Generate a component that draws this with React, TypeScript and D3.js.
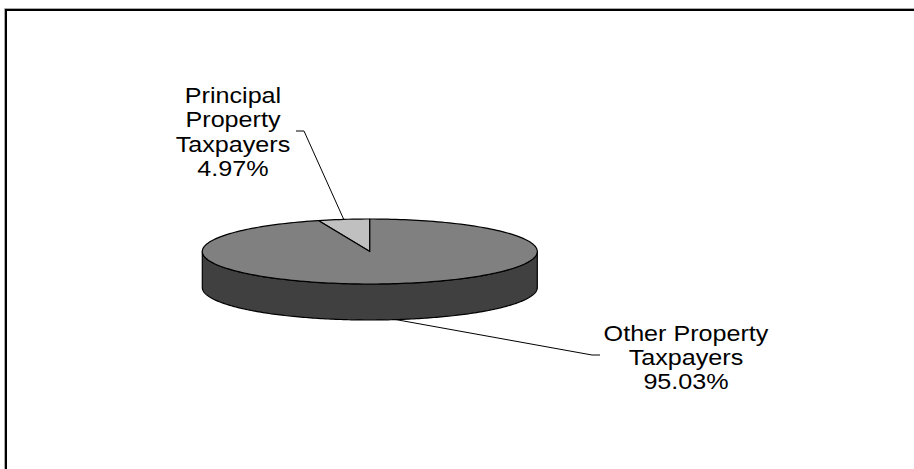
import React from "react";
import * as d3 from "d3";

const categories = ["Principal Property Taxpayers", "Other Property Taxpayers"];
const values = [4.97, 95.03];
const labelLines = [
  ["Principal", "Property", "Taxpayers", "4.97%"],
  ["Other Property", "Taxpayers", "95.03%"],
];
const sliceColors = ["#c0c0c0", "#808080"];
const sideColor = "#404040";

const W = 914;
const H = 469;
const cx = 369.8;
const cy = 251.5;
const rx = 167.5;
const ry = 32.5;
const depth = 36;

// label anchor layout (text centre x, first baseline y, line step, leader elbow)
const labelLayout = [
  { x: 233, y: 103, step: 24.5, elbowX1: 296, elbowX2: 304, elbowY: 131, onSide: false },
  { x: 686, y: 341, step: 24, elbowX1: 600, elbowX2: 592, elbowY: 355, onSide: true },
];

function pt(a: number, dy = 0): [number, number] {
  return [cx + rx * Math.sin(a), cy - ry * Math.cos(a) + dy];
}

function topSlicePath(a0: number, a1: number): string {
  const steps = Math.max(4, Math.ceil(((a1 - a0) / (2 * Math.PI)) * 240));
  const pts: [number, number][] = [[cx, cy]];
  for (let i = 0; i <= steps; i++) pts.push(pt(a0 + ((a1 - a0) * i) / steps));
  return d3.line()(pts)! + "Z";
}

function sidePath(a0: number, a1: number): string {
  const lo = Math.max(a0, Math.PI / 2);
  const hi = Math.min(a1, (3 * Math.PI) / 2);
  if (hi <= lo) return "";
  const steps = 200;
  const topPts: [number, number][] = [];
  const botPts: [number, number][] = [];
  for (let i = 0; i <= steps; i++) {
    const a = lo + ((hi - lo) * i) / steps;
    topPts.push(pt(a));
    botPts.push(pt(a, depth));
  }
  return d3.line()([...topPts, ...botPts.reverse()])! + "Z";
}

export default function App() {
  const startA = (-2 * Math.PI * values[0]) / d3.sum(values);
  const arcs = d3
    .pie<number>()
    .sort(null)
    .startAngle(startA)
    .endAngle(startA + 2 * Math.PI)(values);

  return (
    <svg
      width={W}
      height={H}
      style={{ position: "absolute", left: 0, top: 0, background: "#fff" }}
    >
      {/* chart border */}
      <path d={`M4.5,${H + 5} V8.5 H${W + 5}`} fill="none" stroke="#aaa" strokeWidth={1} />
      <path d={`M6,${H + 5} V10 H${W + 5}`} fill="none" stroke="#000" strokeWidth={2} />

      {/* sides */}
      {arcs.map((a, i) => {
        const d = sidePath(a.startAngle, a.endAngle);
        return d ? (
          <path key={"s" + i} d={d} fill={sideColor} stroke="#000" strokeWidth={1.2} strokeLinejoin="round" />
        ) : null;
      })}
      {/* top faces */}
      {arcs.map((a, i) => (
        <path
          key={"t" + i}
          d={topSlicePath(a.startAngle, a.endAngle)}
          fill={sliceColors[i]}
          stroke="#000"
          strokeWidth={1.2}
          strokeLinejoin="round"
        />
      ))}

      {/* leader lines */}
      {arcs.map((a, i) => {
        const mid = (a.startAngle + a.endAngle) / 2;
        const L = labelLayout[i];
        const [px, py] = pt(mid, L.onSide ? depth : 0);
        return (
          <polyline
            key={"l" + i}
            points={`${px},${py} ${L.elbowX2},${L.elbowY} ${L.elbowX1},${L.elbowY}`}
            fill="none"
            stroke="#000"
            strokeWidth={1}
          />
        );
      })}

      {/* labels */}
      {categories.map((c, i) => {
        const L = labelLayout[i];
        return (
          <g key={c} transform={`translate(${L.x},0) scale(1.17,1)`}>
            <text
              textAnchor="middle"
              fontFamily="'Liberation Sans', Arial, sans-serif"
              fontSize={21.5}
              fill="#000"
            >
              {labelLines[i].map((t, j) => (
                <tspan key={j} x={0} y={L.y + j * L.step}>
                  {t}
                </tspan>
              ))}
            </text>
          </g>
        );
      })}
    </svg>
  );
}
